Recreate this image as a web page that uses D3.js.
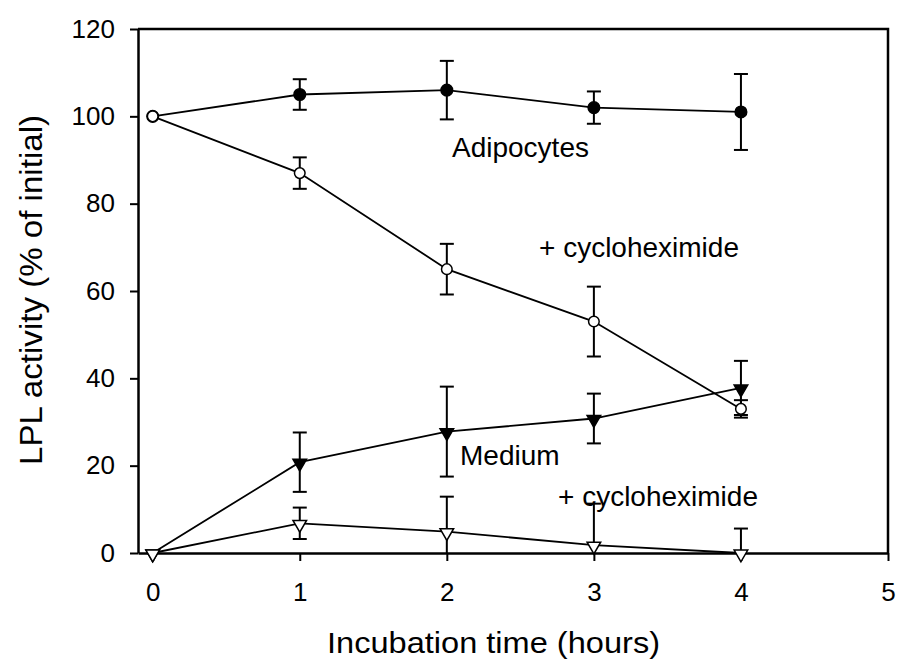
<!DOCTYPE html>
<html>
<head>
<meta charset="utf-8">
<script src="https://cdn.jsdelivr.net/npm/d3@7"></script>
<style>
  html, body { margin: 0; padding: 0; background: #fff; }
  svg { display: block; }
  text { font-family: "Liberation Sans", Arial, sans-serif; fill: #000; }
</style>
</head>
<body>
<svg id="chart" width="912" height="666"></svg>
<script>
// ---- data ----
const hours = [0, 1, 2, 3, 4];
const adipocytes = [100, 105, 106, 102, 101];
const adipocytesErr = [0, 3.5, 6.7, 3.7, 8.7];
const adipocytesCyclo = [100, 87, 65, 53, 33];
const adipocytesCycloErr = [0, 3.6, 5.8, 8, 2];
const medium = [0, 20.8, 27.8, 30.8, 37.8];
const mediumErr = [0, 6.8, 10.3, 5.7, 6.2];
const mediumCyclo = [0, 6.8, 4.9, 1.8, 0];
const mediumCycloErr = [0, 3.6, 8, 9.5, 5.6];
const xTicks = [0, 1, 2, 3, 4, 5];
const yTicks = [0, 20, 40, 60, 80, 100, 120];
const xTitle = "Incubation time (hours)";
const yTitle = "LPL activity (% of initial)";
const annotations = [
  { text: "Adipocytes", x: 452, y: 157 },
  { text: "+ cycloheximide", x: 539, y: 257 },
  { text: "Medium", x: 460, y: 465 },
  { text: "+ cycloheximide", x: 558, y: 506 }
];

const series = [
  { values: adipocytes, err: adipocytesErr, marker: "circle", fill: "#000" },
  { values: medium, err: mediumErr, marker: "triangle", fill: "#000" },
  { values: adipocytesCyclo, err: adipocytesCycloErr, marker: "circle", fill: "#fff" },
  { values: mediumCyclo, err: mediumCycloErr, marker: "triangle", fill: "#fff" }
];

// ---- layout ----
const mLeft = 138, mRight = 888, mTop = 29, mBottom = 553;
const svg = d3.select("#chart");
const x = d3.scaleLinear().domain([-0.1, 5]).range([mLeft, mRight]);
const y = d3.scaleLinear().domain([0, 120]).range([mBottom, mTop]);

// frame (top + right)
svg.append("path")
  .attr("d", `M${mLeft},${mTop}H${mRight}V${mBottom}`)
  .attr("fill", "none").attr("stroke", "#000").attr("stroke-width", 2.5);

// axes
const xAxis = d3.axisBottom(x).tickValues(xTicks).tickSize(8).tickSizeOuter(0).tickPadding(22).tickFormat(d3.format("d"));
const yAxis = d3.axisLeft(y).tickValues(yTicks).tickSize(8).tickSizeOuter(0).tickPadding(15).tickFormat(d3.format("d"));

const gx = svg.append("g").attr("transform", `translate(0,${mBottom})`).call(xAxis);
const gy = svg.append("g").attr("transform", `translate(${mLeft},0)`).call(yAxis);
[gx, gy].forEach(g => {
  g.select(".domain").attr("stroke", "#000").attr("stroke-width", 2.5);
  g.selectAll(".tick line").attr("stroke", "#000").attr("stroke-width", 2);
  g.selectAll(".tick text").style("font-family", '"Liberation Sans", Arial, sans-serif').style("font-size", "26px").attr("fill", "#000");
});

// titles
svg.append("text")
  .attr("x", (327 + 660) / 2).attr("y", 653)
  .attr("text-anchor", "middle")
  .style("font-size", "30px")
  .attr("textLength", 333).attr("lengthAdjust", "spacingAndGlyphs")
  .text(xTitle);
svg.append("text")
  .attr("transform", "translate(42,290) rotate(-90)")
  .attr("text-anchor", "middle")
  .style("font-size", "32px")
  .attr("textLength", 350).attr("lengthAdjust", "spacingAndGlyphs")
  .text(yTitle);

// series
const line = d3.line().x((d, i) => x(hours[i])).y(d => y(d));
const capW = 7;

series.forEach(s => {
  const g = svg.append("g");
  g.append("path").attr("d", line(s.values))
    .attr("fill", "none").attr("stroke", "#000").attr("stroke-width", 1.8);
  s.values.forEach((v, i) => {
    const e = s.err[i];
    if (!e) return;
    const cx = x(hours[i]);
    const hi = v + e, lo = Math.max(0, v - e);
    g.append("line").attr("x1", cx).attr("x2", cx).attr("y1", y(hi)).attr("y2", y(lo))
      .attr("stroke", "#000").attr("stroke-width", 2);
    g.append("line").attr("x1", cx - capW).attr("x2", cx + capW).attr("y1", y(hi)).attr("y2", y(hi))
      .attr("stroke", "#000").attr("stroke-width", 2);
    if (v - e >= 0) {
      g.append("line").attr("x1", cx - capW).attr("x2", cx + capW).attr("y1", y(lo)).attr("y2", y(lo))
        .attr("stroke", "#000").attr("stroke-width", 2);
    }
  });
});
series.forEach(s => {
  const g = svg.append("g");
  s.values.forEach((v, i) => {
    const cx = x(hours[i]), cy = y(v);
    if (s.marker === "circle") {
      g.append("circle").attr("cx", cx).attr("cy", cy).attr("r", s.fill === "#000" ? 5.8 : 5.3)
        .attr("fill", s.fill).attr("stroke", "#000").attr("stroke-width", 1.5);
    } else {
      g.append("path")
        .attr("d", d3.symbol().type(d3.symbolTriangle).size(80)())
        .attr("transform", `translate(${cx},${cy + 1}) rotate(180)`)
        .attr("fill", s.fill).attr("stroke", "#000").attr("stroke-width", 1.5);
    }
  });
});

// annotations
svg.selectAll("text.ann").data(annotations).enter().append("text")
  .attr("class", "ann")
  .attr("x", d => d.x).attr("y", d => d.y)
  .style("font-size", "28px")
  .text(d => d.text);
</script>
</body>
</html>
